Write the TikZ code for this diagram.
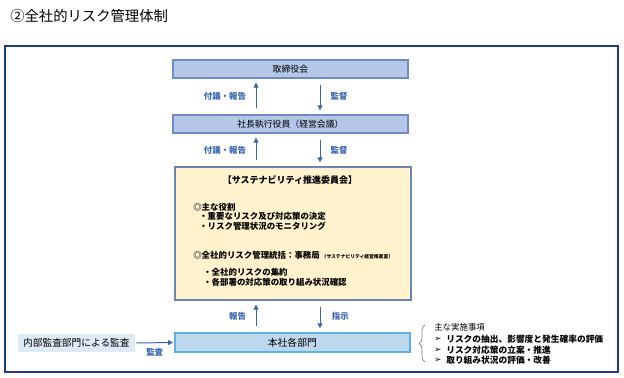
\documentclass[tikz,border=0pt]{standalone}
\usepackage{fontspec}
\setmainfont{Noto Sans CJK JP}
\newfontfamily\symfont{DejaVu Sans}
\usepackage{xcolor}
\usepackage{tikz}
\usetikzlibrary{arrows.meta, positioning, decorations.pathreplacing}
\definecolor{rnavy}{HTML}{1F3A8A}
\definecolor{rblue}{HTML}{3B64B4}
\definecolor{rboard}{HTML}{B4C7E7}
\definecolor{rboardline}{HTML}{6F8AC4}
\definecolor{rcream}{HTML}{FFF2CC}
\definecolor{rcreamline}{HTML}{6C84B4}
\definecolor{rdept}{HTML}{BDD7EE}
\definecolor{rdeptline}{HTML}{5BB3E4}
\definecolor{raudit}{HTML}{DEEBF7}
\definecolor{rgray}{HTML}{7F7F7F}

\begin{document}
\begin{tikzpicture}[x=1cm, y=1cm,
  bar/.style={draw=rboardline, fill=rboard, line width=0.9pt, minimum width=5.875cm,
    minimum height=0.45cm, inner sep=0pt, font=\fontsize{6.3}{7}\selectfont},
  flow/.style={-{Triangle[length=3.5pt,width=3.5pt]}, rblue, line width=0.7pt,
    shorten <=0.15cm, shorten >=0.1cm},
  lab/.style={font=\fontsize{6}{7}\selectfont\bfseries, inner sep=1pt},
  body/.style={font=\fontsize{6}{7}\selectfont\bfseries, anchor=west, inner sep=0pt},
  note/.style={font=\fontsize{6}{7}\selectfont, anchor=west, inner sep=0pt}]

  \useasboundingbox (0,0) rectangle (15.6,9.45);

  %% Title and frame
  \node[anchor=west, inner sep=0pt, font=\fontsize{10.2}{12}\selectfont] (title)
    at (0.25,9.05) {②全社的リスク管理体制};
  \draw[rnavy, line width=1.4pt] (0.125,0.15) rectangle (15.45,8.3);

  %% arrow columns
  \coordinate (ux) at (6.4,0);
  \coordinate (dx) at (8.0,0);

  %% ── Board / executives ───────────────────────────────────────────────
  \node[bar] (board) at (7.26,7.725) {取締役会};
  \node[bar] (exec) at (7.26,6.35) {社長執行役員（経営会議）};

  \draw[flow] (exec.north -| ux) -- node[lab, left=0.2cm] (rep1) {付議・報告} (board.south -| ux);
  \draw[flow] (board.south -| dx) -- node[lab, right=0.22cm] (sup1) {監督} (exec.north -| dx);

  %% ── Sustainability committee ─────────────────────────────────────────
  \node[draw=rcreamline, fill=rcream, line width=0.9pt, minimum width=5.9cm,
    minimum height=3.325cm, inner sep=0pt] (committee) at (7.325,3.6125) {};

  \draw[flow] (committee.north -| ux) -- node[lab, left=0.2cm] (rep2) {付議・報告} (exec.south -| ux);
  \draw[flow] (exec.south -| dx) -- node[lab, right=0.22cm] (sup2) {監督} (committee.north -| dx);

  \node[font=\fontsize{6.4}{7}\selectfont\bfseries, inner sep=0pt] (ctitle)
    at (7.25,4.95) {【サステナビリティ推進委員会】};
  \node[body] (role) at (4.825,4.275) {◎主な役割};
  \node[body] (role1) at (4.975,4.05) {・重要なリスク及び対応策の決定};
  \node[body] (role2) at (4.975,3.8) {・リスク管理状況のモニタリング};
  \node[body] (office) at (4.825,3.075) {◎全社的リスク管理統括：事務局
    {\fontsize{3.4}{4}\selectfont （サステナビリティ経営推進室）}};
  \node[body] (office1) at (5.075,2.65) {・全社的リスクの集約};
  \node[body] (office2) at (5.075,2.4) {・各部署の対応策の取り組み状況確認};

  %% ── Departments ──────────────────────────────────────────────────────
  \node[draw=rdeptline, fill=rdept, line width=1pt, minimum width=5.875cm,
    minimum height=0.475cm, inner sep=0pt, font=\fontsize{7}{8}\selectfont]
    (dept) at (7.31,0.8875) {本社各部門};
  \node[fill=raudit, minimum width=2.925cm, minimum height=0.45cm, inner sep=0pt,
    font=\fontsize{6.9}{8}\selectfont] (audit) at (1.91,0.875) {内部監査部門による監査};

  \draw[flow] (dept.north -| ux) -- node[lab, left=0.2cm] (rep3) {報告} (committee.south -| ux);
  \draw[flow] (committee.south -| dx) -- node[lab, right=0.25cm] (order) {指示} (dept.north -| dx);
  \draw[flow, shorten <=0.03cm, shorten >=0.03cm] (audit.east) --
    node[lab, below=0.08cm] (check) {監査} (dept.west);

  %% main activities
  \draw[rgray, line width=0.5pt, decorate, decoration={brace, amplitude=4pt}]
    (10.62,0.4) -- (10.62,1.325);
  \node[note] (acts) at (10.85,1.275) {主な実施事項};
  \foreach \y/\t [count=\i] in {0.975/{リスクの抽出、影響度と発生確率の評価},
      0.7/{リスク対応策の立案・推進}, 0.45/{取り組み状況の評価・改善}} {
    \node[note, font=\fontsize{6}{7}\symfont] (mark\i) at (10.85,\y) {➢};
    \node[body, font=\fontsize{6.2}{7}\selectfont\bfseries] (act\i) at (11.15,\y) {\t};
  }

\end{tikzpicture}
\end{document}
